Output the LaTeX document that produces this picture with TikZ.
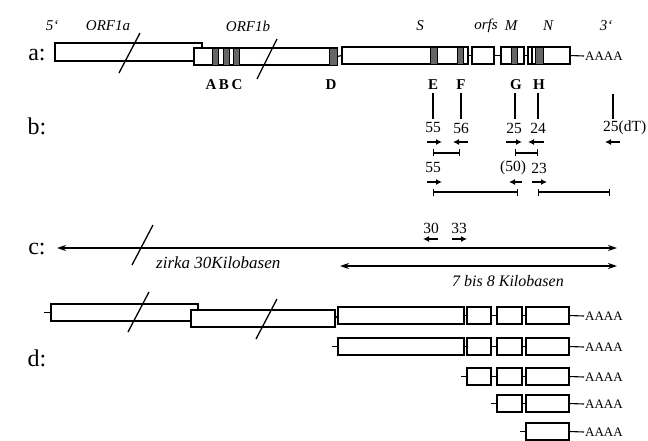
\documentclass[tikz,border=0pt]{standalone}
\usepackage{fontspec}
\setmainfont{Liberation Serif}
\usetikzlibrary{arrows.meta}
\tikzset{
  orf/.style={
    draw, line width=1.1pt, fill=white,
    inner sep=0pt, outer sep=0pt
  },
  band/.style={draw, line width=0.8pt, fill=black!60},
  link/.style={line width=1.1pt},
  brk/.style={line width=1.3pt},
  polya/.style={font=\fontsize{13}{13}\selectfont, inner sep=1pt, anchor=west},
  rowlbl/.style={font=\fontsize{24}{24}\selectfont},
  genlbl/.style={font=\fontsize{15}{15}\selectfont\itshape},
  sitelbl/.style={font=\fontsize{15}{15}\selectfont\bfseries, inner sep=1pt},
  numlbl/.style={font=\fontsize{15.5}{15.5}\selectfont, inner sep=1pt},
  kblbl/.style={font=\fontsize{16}{16}\selectfont\itshape, anchor=west, inner sep=0pt},
  primer/.style={-{Latex[length=6pt, width=6pt]}, line width=1.2pt},
  ampl/.style={{Bar[width=7pt]}-{Bar[width=7pt]}, line width=1.1pt},
  kbarrow/.style={{Stealth[length=9pt, width=6pt]}-{Stealth[length=9pt, width=6pt]}, line width=1.4pt}
}
% box node from left/right/top/bottom (in px)
\newcommand{\orfbox}[5]{
  \node[orf, minimum width={(#3-#2)*1pt}, minimum height={(#5-#4)*1pt}] (#1) at ({(#2+#3)/2}, {(#4+#5)/2}) {};
}
% dark band inside a box
\newcommand{\band}[3]{
  \draw[band] (#1.north -| {#2,0}) rectangle (#1.south -| {#3,0});
}

\begin{document}
\begin{tikzpicture}[x=1pt, y=-1pt]
\useasboundingbox (0,0) rectangle (648,441);

% row labels
\node[rowlbl] (rowa) at (37,55) {a:};
\node[rowlbl] (rowb) at (37,126) {b:};
\node[rowlbl] (rowc) at (37,249) {c:};
\node[rowlbl] (rowd) at (37,358) {d:};

% a: genome
\node[genlbl] (p5) at (52,26) {5‘};
\node[genlbl] (g1a) at (108,26) {ORF1a};
\node[genlbl] (g1b) at (248,26) {ORF1b};
\node[genlbl] (gS) at (420,26) {S};
\node[genlbl] (gorfs) at (486,26) {orfs};
\node[genlbl] (gM) at (511,26) {M};
\node[genlbl] (gN) at (548,26) {N};
\node[genlbl] (p3) at (606,26) {3‘};

\orfbox{aORFa}{55}{202}{43}{61}
\orfbox{aORFb}{194}{337}{48}{65}
\orfbox{aS}{342}{468}{47}{64}
\orfbox{aorfs}{472}{494}{47}{64}
\orfbox{aM}{501}{524}{47}{64}
\orfbox{aN}{528}{570}{47}{64}
\band{aORFb}{212}{218}
\band{aORFb}{223}{229}
\band{aORFb}{233}{239}
\band{aORFb}{329}{337}
\band{aS}{430}{437}
\band{aS}{457}{463}
\band{aM}{511}{517}
\band{aN}{535}{543}
\draw[link] (aN.north -| {532,0}) -- (aN.south -| {532,0});
\draw[link] (aORFb.east) -- (aS.west);
\draw[link] (aS.east) -- (aorfs.west);
\draw[link] (aorfs.east) -- (aM.west);
\draw[link] (aM.east) -- (aN.west);
\node[polya] (aA) at (584,56) {AAAA};
\draw[link] (aN.east) -- (aA.west);
\draw[brk] (119,73) -- (140,33);
\draw[brk] (257,79) -- (277,39);

\node[sitelbl] (sA) at (211,84.5) {A};
\node[sitelbl] (sB) at (224,84.5) {B};
\node[sitelbl] (sC) at (237,84.5) {C};
\node[sitelbl] (sD) at (331,84.5) {D};
\node[sitelbl] (sE) at (433,84.5) {E};
\node[sitelbl] (sF) at (461,84.5) {F};
\node[sitelbl] (sG) at (516,84.5) {G};
\node[sitelbl] (sH) at (539,84.5) {H};

% b: primers
\node[numlbl] (n55) at (433,128) {55};
\node[numlbl] (n56) at (461,128) {56};
\node[numlbl] (n25) at (514,128) {25};
\node[numlbl] (n24) at (538,128) {24};
\node[numlbl, anchor=west] (ndT) at (602,128) {25(dT)};
\draw[link] (sE.south |- {0,93}) -- (sE.south |- {0,119});
\draw[link] (sF.south |- {0,93}) -- (sF.south |- {0,119});
\draw[link] (515,93) -- (515,119);
\draw[link] (538,93) -- (538,119);
\coordinate (dTtop) at (613,94);
\draw[link] (dTtop) -- (dTtop |- {0,119});

\draw[primer] ([xshift=-6pt, yshift=-14pt]n55.center) -- ++(15,0);
\draw[primer] ([xshift=7pt, yshift=-14pt]n56.center) -- ++(-15,0);
\draw[primer] ([xshift=-8pt, yshift=-14pt]n25.center) -- ++(16,0);
\draw[primer] ([xshift=6pt, yshift=-14pt]n24.center) -- ++(-16,0);
\draw[primer] (620,142) -- (605,142);
\draw[ampl] (433,153) -- (460,153);
\draw[ampl] (515,153) -- (538,153);

\node[numlbl] (n55b) at (433,168) {55};
\node[numlbl] (n50) at (513,168) {(50)};
\node[numlbl] (n23) at (539,168) {23};
\draw[primer] ([xshift=-6pt, yshift=-14pt]n55b.center) -- ++(15,0);
\draw[primer] ([xshift=9pt, yshift=-14pt]n50.center) -- ++(-13,0);
\draw[primer] ([xshift=-7pt, yshift=-14pt]n23.center) -- ++(15,0);
\draw[ampl] (433,192) -- (518,192);
\draw[ampl] (538,192) -- (610,192);

% c: lengths
\node[numlbl] (n30) at (431,228) {30};
\node[numlbl] (n33) at (459,228) {33};
\draw[primer] ([xshift=7pt, yshift=-11pt]n30.center) -- ++(-15,0);
\draw[primer] ([xshift=-7pt, yshift=-11pt]n33.center) -- ++(15,0);
\coordinate (cL) at (57,248);
\coordinate (cR) at (617,248);
\draw[kbarrow] (cL) -- (cR);
\draw[brk] (132,265) -- (153,225);
\node[kblbl, font=\fontsize{17}{17}\selectfont\itshape] (kb30) at (156,263) {zirka 30Kilobasen};
\coordinate (sgL) at (340,266);
\coordinate (sgR) at (617,266);
\draw[kbarrow] (sgL) -- (sgR);
\node[kblbl] (kb78) at (452,281) {7 bis 8 Kilobasen};

% d: mRNAs
\orfbox{dORFa}{51}{198}{304}{321}
\orfbox{dORFb}{191}{335}{310}{327}
\orfbox{d1S}{338}{464}{307}{324}
\orfbox{d1B}{467}{491}{307}{324}
\orfbox{d1C}{497}{522}{307}{324}
\orfbox{d1D}{526}{569}{307}{324}
\coordinate (d1t) at (44,312.5);
\draw[link] (d1t) -- (dORFa.west);
\draw[link] (dORFb.east) -- (d1S.west);
\draw[link] (d1S.east) -- (d1B.west);
\draw[link] (d1B.east) -- (d1C.west);
\draw[link] (d1C.east) -- (d1D.west);
\node[polya] (d1A) at (584,316) {AAAA};
\draw[link] (d1D.east) -- (d1A.west);
\draw[brk] (128,332) -- (149,292);
\draw[brk] (256,339) -- (277,299);

\orfbox{d2S}{338}{464}{338}{355}
\orfbox{d2B}{467}{491}{338}{355}
\orfbox{d2C}{497}{522}{338}{355}
\orfbox{d2D}{526}{569}{338}{355}
\coordinate (d2t) at (332,346.5);
\draw[link] (d2t) -- (d2S.west);
\draw[link] (d2S.east) -- (d2B.west);
\draw[link] (d2B.east) -- (d2C.west);
\draw[link] (d2C.east) -- (d2D.west);
\node[polya] (d2A) at (584,347) {AAAA};
\draw[link] (d2D.east) -- (d2A.west);

\orfbox{d3B}{467}{491}{368}{385}
\orfbox{d3C}{497}{522}{368}{385}
\orfbox{d3D}{526}{569}{368}{385}
\coordinate (d3t) at (461,376.5);
\draw[link] (d3t) -- (d3B.west);
\draw[link] (d3B.east) -- (d3C.west);
\draw[link] (d3C.east) -- (d3D.west);
\node[polya] (d3A) at (584,377) {AAAA};
\draw[link] (d3D.east) -- (d3A.west);

\orfbox{d4C}{497}{522}{395}{412}
\orfbox{d4D}{526}{569}{395}{412}
\coordinate (d4t) at (491,403.5);
\draw[link] (d4t) -- (d4C.west);
\draw[link] (d4C.east) -- (d4D.west);
\node[polya] (d4A) at (584,404) {AAAA};
\draw[link] (d4D.east) -- (d4A.west);

\orfbox{d5D}{526}{569}{423}{440}
\coordinate (d5t) at (520,431.5);
\draw[link] (d5t) -- (d5D.west);
\node[polya] (d5A) at (584,432) {AAAA};
\draw[link] (d5D.east) -- (d5A.west);

\end{tikzpicture}
\end{document}
